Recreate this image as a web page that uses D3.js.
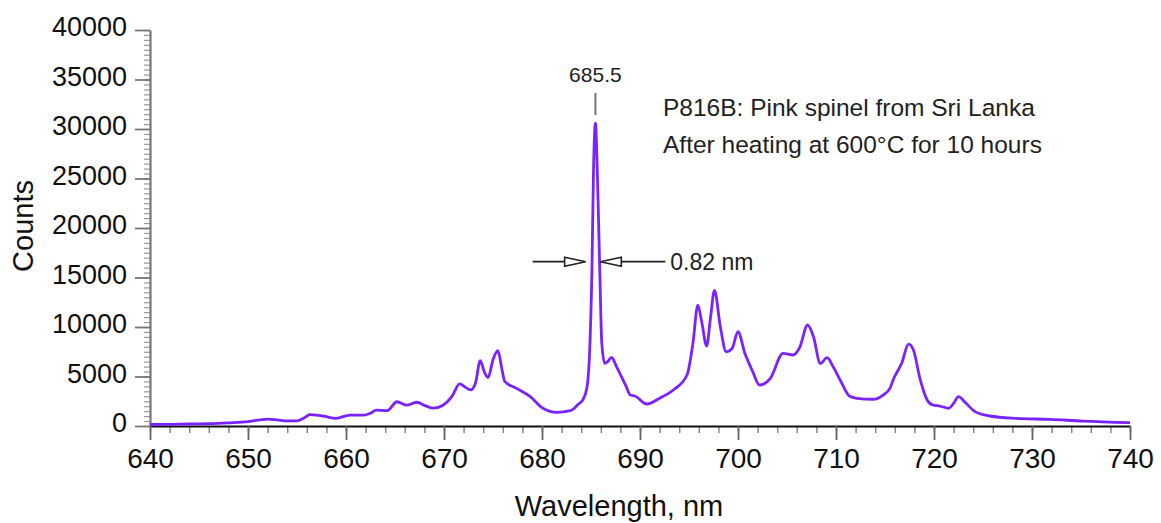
<!DOCTYPE html>
<html>
<head>
<meta charset="utf-8">
<script src="https://cdn.jsdelivr.net/npm/d3@7"></script>
<style>
  body { margin: 0; background: #fff; }
  svg { font-family: "Liberation Sans", Arial, Helvetica, sans-serif; }
</style>
</head>
<body>
<svg id="spectrum" width="1161" height="523"></svg>
<script>
// wavelength (nm) and counts
const wavelengths = [
  640, 642, 644, 646, 648, 650, 651, 652, 653, 654, 655, 655.7, 656.3, 657, 657.7, 659,
  660.4, 661.8, 662.5, 663.1, 664.2, 665.2, 666.2, 667.2, 668.2, 668.9, 669.9,
  670.8, 671.6, 672.2, 672.7, 673.2, 673.7, 674.1, 674.5, 675.0, 675.5, 675.9, 676.2,
  677.4, 678.8, 680.1, 681.5, 682.9, 683.7, 684.2, 684.6, 684.9, 685.1, 685.25,
  685.45, 685.65, 685.9, 686.1, 686.4, 686.7, 687.1, 687.6, 688.6, 689.0, 689.5,
  690.7, 692.0, 693.4, 694.8, 695.4, 695.9, 696.3, 696.8, 697.2, 697.6, 698.2, 698.8,
  699.4, 700.0, 700.7, 701.5, 702.2, 703.3, 704.6, 705.6, 706.3, 707.1, 707.7, 708.4,
  709.1, 709.7, 710.5, 711.4, 712.1, 713.8, 714.8, 715.5, 715.9, 716.7, 717.4, 717.9,
  718.6, 719.3, 719.9, 720.6, 721.5, 722.0, 722.5, 723.2, 724.2, 725.7, 728.4, 731.8,
  735.2, 740
];
const counts = [
  150, 170, 200, 230, 320, 450, 600, 700, 620, 520, 520, 800, 1150, 1100, 1000, 780,
  1100, 1100, 1300, 1600, 1550, 2450, 2100, 2400, 2000, 1800, 2100,
  2960, 4250, 3900, 3640, 4300, 6600, 5500, 4900, 6700, 7600, 5800, 4500,
  3800, 2960, 1790, 1380, 1550, 2200, 2700, 3970, 8500, 16000, 25500,
  30600, 25500, 15500, 8400, 6330, 6500, 6940, 6000, 3970, 3130, 3030,
  2220, 2800, 3640, 5150, 8350, 12200, 10500, 8080, 11000, 13700, 10000, 7500,
  7840, 9520, 7340, 5500, 4140, 4820, 7340, 7170, 7950, 10200, 9020, 6330,
  6900, 6000, 4500, 3000, 2800, 2700, 3130, 3800, 4820, 6330, 8280, 7680,
  4650, 2630, 2120, 2020, 1790, 2290, 2960, 2360, 1450, 1010, 770, 670,
  500, 340
];

const xTicks = [640, 650, 660, 670, 680, 690, 700, 710, 720, 730, 740];
const yTicks = [0, 5000, 10000, 15000, 20000, 25000, 30000, 35000, 40000];

const peakLabel = "685.5";
const peakAt = 685.5;
const fwhmLabel = "0.82 nm";
const fwhmTips = [684.45, 685.95];
const fwhmLevel = 16600;
const sampleLines = ["P816B: Pink spinel from Sri Lanka", "After heating at 600°C for 10 hours"];

const svg = d3.select("#spectrum");
const margin = { top: 30, right: 31, bottom: 97, left: 150 };
const width = 1161 - margin.left - margin.right;
const height = 523 - margin.top - margin.bottom;

const g = svg.append("g").attr("transform", `translate(${margin.left},${margin.top})`);

const x = d3.scaleLinear().domain([640, 740]).range([0, width]);
const y = d3.scaleLinear().domain([0, 40000]).range([height, 0]);

const data = wavelengths.map((w, i) => ({ w, c: counts[i] }));

// minor ticks
g.append("g")
  .attr("transform", `translate(0,${height})`)
  .call(d3.axisBottom(x).tickValues(d3.range(640, 741, 2)).tickSize(7).tickFormat(""))
  .call(a => a.select(".domain").remove())
  .selectAll("line").attr("stroke", "#888").attr("stroke-width", 1.5);

g.append("g")
  .call(d3.axisLeft(y).tickValues(d3.range(0, 40001, 500)).tickSize(6).tickFormat(""))
  .call(a => a.select(".domain").remove())
  .selectAll("line").attr("stroke", "#999").attr("stroke-width", 1.2);

// major axes
const yAxis = g.append("g")
  .call(d3.axisLeft(y).tickValues(yTicks).tickSize(15).tickPadding(8).tickSizeOuter(0)
    .tickFormat(d3.format("d")));
yAxis.select(".domain").attr("stroke", "#777").attr("stroke-width", 2.2);
yAxis.selectAll(".tick line").attr("stroke", "#777").attr("stroke-width", 1.8);
yAxis.selectAll("text")
  .attr("font-size", 27)
  .attr("dy", "0.22em")
  .attr("fill", "#111");

const xAxis = g.append("g")
  .attr("transform", `translate(0,${height})`)
  .call(d3.axisBottom(x).tickValues(xTicks).tickSize(14).tickPadding(8).tickSizeOuter(0));
xAxis.select(".domain").attr("stroke", "#111").attr("stroke-width", 2);
xAxis.selectAll(".tick line").attr("stroke", "#666").attr("stroke-width", 1.8);
xAxis.selectAll("text")
  .attr("font-size", 28)
  .attr("fill", "#111");

// axis titles
svg.append("text")
  .attr("x", 619)
  .attr("y", 516)
  .attr("text-anchor", "middle")
  .attr("font-size", 29)
  .attr("fill", "#111")
  .text("Wavelength, nm");

svg.append("text")
  .attr("transform", "rotate(-90)")
  .attr("x", -226)
  .attr("y", 33)
  .attr("text-anchor", "middle")
  .attr("font-size", 29)
  .attr("fill", "#111")
  .text("Counts");

// spectrum
const line = d3.line()
  .x(d => x(d.w))
  .y(d => y(d.c))
  .curve(d3.curveMonotoneX);

g.append("path")
  .datum(data)
  .attr("fill", "none")
  .attr("stroke", "#7a22ff")
  .attr("stroke-width", 2.8)
  .attr("stroke-linejoin", "round")
  .attr("d", line);

// peak marker
g.append("line")
  .attr("x1", x(peakAt) - 0.5).attr("x2", x(peakAt) - 0.5)
  .attr("y1", 63).attr("y2", 85)
  .attr("stroke", "#777")
  .attr("stroke-width", 2);

g.append("text")
  .attr("x", x(peakAt) - 0.5)
  .attr("y", 52)
  .attr("text-anchor", "middle")
  .attr("font-size", 21)
  .attr("fill", "#222")
  .text(peakLabel);

// FWHM arrows
const ay = y(fwhmLevel);
const headLen = 21;
const headHalf = 4.5;
const lt = x(fwhmTips[0]);
const rt = x(fwhmTips[1]);

g.append("line")
  .attr("x1", lt - 53).attr("x2", lt - headLen)
  .attr("y1", ay).attr("y2", ay)
  .attr("stroke", "#222").attr("stroke-width", 1.8);
g.append("path")
  .attr("d", `M${lt},${ay}L${lt - headLen},${ay - headHalf}L${lt - headLen},${ay + headHalf}Z`)
  .attr("fill", "#fff").attr("stroke", "#222").attr("stroke-width", 1.6);

g.append("line")
  .attr("x1", rt + headLen).attr("x2", rt + 65)
  .attr("y1", ay).attr("y2", ay)
  .attr("stroke", "#222").attr("stroke-width", 1.8);
g.append("path")
  .attr("d", `M${rt},${ay}L${rt + headLen},${ay - headHalf}L${rt + headLen},${ay + headHalf}Z`)
  .attr("fill", "#fff").attr("stroke", "#222").attr("stroke-width", 1.6);

g.append("text")
  .attr("x", rt + 70)
  .attr("y", ay + 8)
  .attr("font-size", 23)
  .attr("fill", "#222")
  .text(fwhmLabel);

// sample description
g.selectAll(".desc")
  .data(sampleLines)
  .enter()
  .append("text")
  .attr("class", "desc")
  .attr("x", 513)
  .attr("y", (d, i) => 86 + i * 37)
  .attr("font-size", 24.5)
  .attr("fill", "#222")
  .text(d => d);
</script>
</body>
</html>
